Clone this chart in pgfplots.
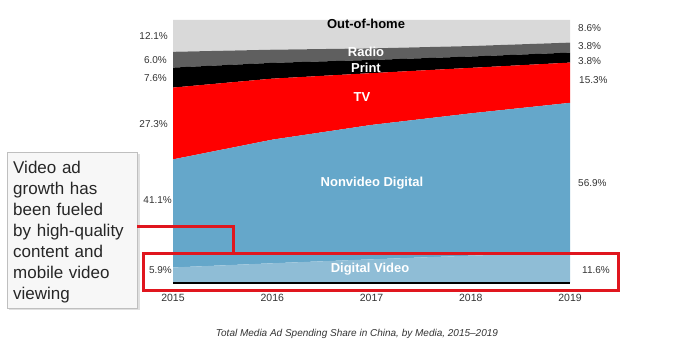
\documentclass[border=0pt]{standalone}
\usepackage{fontspec}
\setmainfont{Liberation Sans}
\usepackage{pgfplots}
\usepackage{pgfplotstable}
\pgfplotsset{compat=1.18}
\definecolor{ooh}{HTML}{D9D9D9}
\definecolor{radio}{HTML}{5F5F5F}
\definecolor{printc}{HTML}{000000}
\definecolor{tv}{HTML}{FF0000}
\definecolor{nonvid}{HTML}{65A7CA}
\definecolor{vid}{HTML}{8FBDD6}
\definecolor{callred}{HTML}{E0161E}
\definecolor{pct}{HTML}{333333}
\pgfplotstableread{
year video nonvideo tv print radio ooh
2015 5.9 41.1 27.3 7.6 6.0 12.1
2016 7.5 47.0 23.2 6.0 5.0 11.3
2017 9.0 51.1 19.7 5.0 4.4 10.8
2018 10.4 54.1 17.3 4.3 4.0 9.9
2019 11.6 56.9 15.3 3.8 3.8 8.6
}\datatable
\begin{document}
\begin{tikzpicture}
\useasboundingbox (0pt,0pt) rectangle (688pt,355pt);
\begin{axis}[
  at={(173pt,72pt)}, anchor=south west,
  scale only axis, width=397pt, height=263pt,
  xmin=2015, xmax=2019, ymin=0, ymax=100,
  stack plots=y,
  axis x line=bottom, axis y line=none,
  x axis line style={black, line width=1.6pt, -},
  xtick={2015,2016,2017,2018,2019},
  major tick length=0pt,
  xticklabel style={/pgf/number format/1000 sep={}, font=\fontsize{10.5}{12}\selectfont, text=pct, yshift=-8pt},
  /pgf/number format/assume math mode=true,
  axis on top,
  clip=false,
]
\addplot[fill=vid, draw=none] table[x=year,y=video]{\datatable} \closedcycle;
\addplot[fill=nonvid, draw=none] table[x=year,y=nonvideo]{\datatable} \closedcycle;
\addplot[fill=tv, draw=none] table[x=year,y=tv]{\datatable} \closedcycle;
\addplot[fill=printc, draw=none] table[x=year,y=print]{\datatable} \closedcycle;
\addplot[fill=radio, draw=none] table[x=year,y=radio]{\datatable} \closedcycle;
\addplot[fill=ooh, draw=none] table[x=year,y=ooh]{\datatable} \closedcycle;
\end{axis}
\begin{scope}[x=1pt,y=1pt]
% series labels
\begin{scope}[every node/.style={font=\bfseries\fontsize{13}{14}\selectfont, inner sep=0pt}]
\node[text=black] at (366,331) {Out-of-home};
\node[text=white] at (366,303) {Radio};
\node[text=white] at (366,287.5) {Print};
\node[text=white] at (362,258) {TV};
\node[text=white] at (372,172) {Nonvideo Digital};
\node[text=white] at (370,86) {Digital Video};
\end{scope}
% percentage labels
\begin{scope}[every node/.style={font=\fontsize{10}{12}\selectfont, text=pct, inner sep=0pt}]
\node[anchor=east] at (168,319) {12.1\%};
\node[anchor=east] at (167,295) {6.0\%};
\node[anchor=east] at (167,277) {7.6\%};
\node[anchor=east] at (168,231) {27.3\%};
\node[anchor=east] at (172,155) {41.1\%};
\node[anchor=east] at (172,85) {5.9\%};
\node[anchor=west] at (578,327) {8.6\%};
\node[anchor=west] at (578,309) {3.8\%};
\node[anchor=west] at (578,294) {3.8\%};
\node[anchor=west] at (579,275) {15.3\%};
\node[anchor=west] at (578,172) {56.9\%};
\node[anchor=west] at (582,85) {11.6\%};
\end{scope}
% title
\node[font=\itshape\fontsize{10}{12}\selectfont, text=pct] at (357,21) {Total Media Ad Spending Share in China, by Media, 2015--2019};
% callout box
\fill[black!12] (9,45) rectangle (140,201);
\filldraw[fill=black!3, draw=black!25, line width=0.8pt] (7,47) rectangle (137,203);
\node[anchor=north west, align=left, text width=125pt, inner sep=0pt,
  font=\fontsize{17}{21}\selectfont, text=black!85] at (13,194)
  {Video ad\\growth has\\been fueled\\by high-quality\\content and\\mobile video\\viewing};
% red callout lines
\draw[callred, line width=3pt] (143,64) rectangle (618,101);
\draw[callred, line width=3pt] (137,128) -- (233,128) -- (233,101);
\end{scope}
\end{tikzpicture}
\end{document}
